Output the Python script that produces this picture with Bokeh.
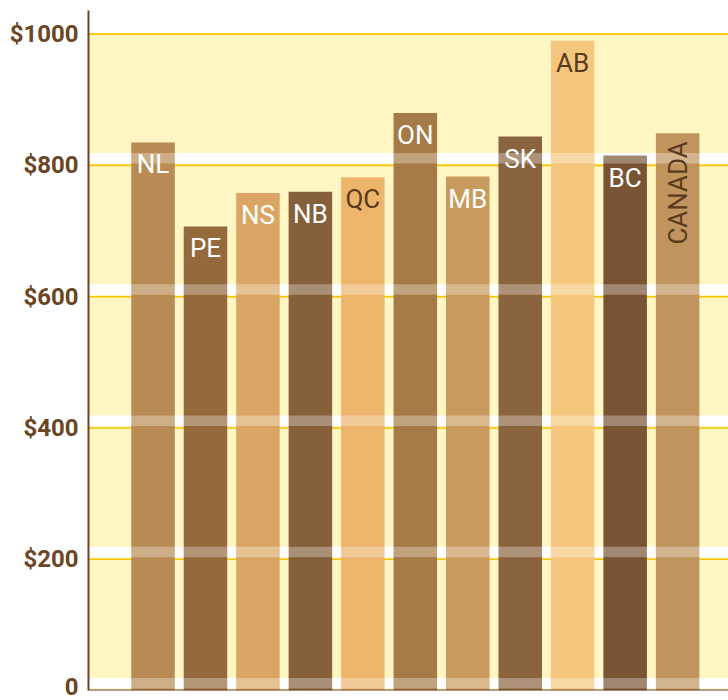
import math

from bokeh.core.properties import value
from bokeh.embed import file_html
from bokeh.models import ColumnDataSource, FixedTicker, Range1d, Span
from bokeh.plotting import figure
from bokeh.resources import INLINE

# Average weekly earnings by province, with the national figure last
regions = ["NL", "PE", "NS", "NB", "QC", "ON", "MB", "SK", "AB", "BC", "CANADA"]
earnings = [835, 707, 758, 760, 782, 880, 783, 844, 990, 815, 849]
bar_colors = ["#B98B54", "#94693C", "#DBA665", "#85603A", "#EDB46C", "#A57A46",
              "#C99A5D", "#8A643F", "#F5C77D", "#795434", "#BF945D"]
label_colors = ["#FFFFFF", "#FFFFFF", "#FFFFFF", "#FFFFFF", "#5A3A1E", "#FFFFFF",
                "#FFFFFF", "#FFFFFF", "#5A3A1E", "#FFFFFF", "#5A3A1E"]

y_ticks = [0, 200, 400, 600, 800, 1000]
y_tick_labels = ["0", "$200", "$400", "$600", "$800", "$1000"]

BROWN = "#6B4524"
CREAM = "#FFF6C4"
GOLD = "#F6C500"
FONT = "Roboto"

xr = Range1d(-1.23, 10.97)
yr = Range1d(0, 1036)

p = figure(width=728, height=700, x_range=xr, y_range=yr,
           output_backend="svg", toolbar_location=None,
           min_border_left=88, min_border_right=0,
           min_border_top=10, min_border_bottom=10)
p.outline_line_color = None
p.background_fill_color = "white"
p.border_fill_color = "white"
p.xgrid.visible = False
p.ygrid.visible = False
p.xaxis.visible = False

# cream plotting field up to the top tick
top = y_ticks[-1]
p.quad(left=[xr.start], right=[xr.end], bottom=[0], top=[top],
       fill_color=CREAM, line_color=None)

# white band sitting just above each gridline
band_y = [t + 11 for t in y_ticks[:-1]]
p.hbar(y=band_y, height=16, left=xr.start, right=xr.end,
       fill_color="white", line_color=None)

# golden gridlines
grid_y = y_ticks[1:]
p.segment(x0=[xr.start] * len(grid_y), y0=grid_y,
          x1=[xr.end] * len(grid_y), y1=grid_y,
          line_color=GOLD, line_width=1.6)

xs = list(range(len(regions)))
src = ColumnDataSource(dict(x=xs, v=earnings, color=bar_colors,
                            name=regions, tc=label_colors))
p.vbar(x="x", top="v", width=0.83, source=src,
       fill_color="color", line_color=None)

# the white bands show faintly across the bars
p.hbar(y=band_y, height=16, left=xr.start, right=xr.end,
       fill_color="white", fill_alpha=0.3, line_color=None)

# region names inside the bar tops
prov = ColumnDataSource(dict(x=xs[:-1], v=earnings[:-1],
                             name=regions[:-1], tc=label_colors[:-1]))
p.text(x="x", y="v", text="name", source=prov, text_color="tc",
       text_font=value(FONT), text_font_size="26px",
       text_align="center", text_baseline="top", y_offset=7)

nat = ColumnDataSource(dict(x=xs[-1:], v=earnings[-1:],
                            name=regions[-1:], tc=label_colors[-1:]))
p.text(x="x", y="v", text="name", source=nat, text_color="tc",
       text_font=value(FONT), text_font_size="26px", angle=math.pi / 2,
       text_align="right", text_baseline="middle", y_offset=8)

# baseline axis
p.add_layout(Span(location=0, dimension="width", line_color=BROWN, line_width=2))

ax = p.yaxis[0]
ax.ticker = FixedTicker(ticks=y_ticks)
ax.major_label_overrides = {t: s for t, s in zip(y_ticks, y_tick_labels)}
ax.axis_line_color = BROWN
ax.axis_line_width = 2
ax.major_tick_line_color = None
ax.minor_tick_line_color = None
ax.major_label_standoff = 4
ax.major_label_text_font = FONT
ax.major_label_text_font_style = "bold"
ax.major_label_text_font_size = "24px"
ax.major_label_text_color = BROWN

open("out.html", "w").write(file_html(p, INLINE))
